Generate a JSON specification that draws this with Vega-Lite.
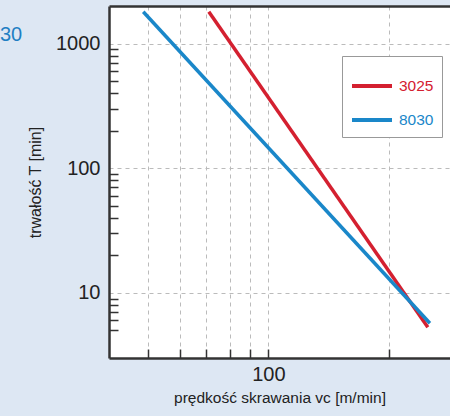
{
  "$schema": "https://vega.github.io/schema/vega-lite/v6.json",
  "width": 341,
  "height": 352,
  "autosize": {"type": "none"},
  "padding": {"left": 109, "top": 6, "right": 0, "bottom": 58},
  "background": "#dde7f3",
  "config": {
    "view": {"stroke": null, "fill": "white"},
    "font": "Liberation Sans, Arial, sans-serif"
  },
  "title": {
    "text": "30",
    "anchor": "start",
    "frame": "group",
    "align": "left",
    "orient": "top",
    "baseline": "alphabetic",
    "offset": 0,
    "dx": -109,
    "dy": 55,
    "fontSize": 20,
    "fontWeight": "normal",
    "color": "#1f7fc3"
  },
  "data": {
    "values": [
      {"grade": "3025", "v": 71, "T": 1800},
      {"grade": "3025", "v": 250, "T": 5.3},
      {"grade": "8030", "v": 48.7, "T": 1800},
      {"grade": "8030", "v": 253, "T": 5.7}
    ]
  },
  "layer": [
    {
      "mark": {"type": "line", "strokeWidth": 3.5, "clip": true},
      "encoding": {
        "x": {
          "field": "v",
          "type": "quantitative",
          "scale": {"type": "log", "domain": [40, 284], "nice": false},
          "axis": {
            "values": [50, 60, 70, 80, 90, 100, 200],
            "labelExpr": "datum.value == 100 ? '100' : ''",
            "grid": true,
            "gridColor": "#bbbbbb",
            "gridDash": [4, 4],
            "gridWidth": 1,
            "tickSize": -9,
            "tickColor": "#333333",
            "tickWidth": 1.5,
            "domainColor": "#333333",
            "domainWidth": 2.5,
            "labelFontSize": 20,
            "labelColor": "#222222",
            "labelPadding": 15,
            "labelOverlap": false,
            "labelBound": false,
            "labelFlush": false,
            "title": "prędkość skrawania vc [m/min]",
            "titleFontSize": 15.5,
            "titleFontWeight": "normal",
            "titleColor": "#222222",
            "titlePadding": 6
          }
        },
        "y": {
          "field": "T",
          "type": "quantitative",
          "scale": {"type": "log", "domain": [3, 2000], "nice": false},
          "axis": {
            "values": [5, 6, 7, 8, 9, 10, 20, 30, 40, 50, 60, 70, 80, 90, 100, 200, 300, 400, 500, 600, 700, 800, 900, 1000],
            "labelExpr": "(datum.value == 10 || datum.value == 100 || datum.value == 1000) ? format(datum.value, 'd') : ''",
            "grid": true,
            "gridOpacity": {"condition": {"test": "datum.value == 10 || datum.value == 100 || datum.value == 1000", "value": 1}, "value": 0},
            "tickOpacity": {"condition": {"test": "datum.value == 10 || datum.value == 100 || datum.value == 1000", "value": 0}, "value": 1},
            "gridColor": "#bbbbbb",
            "gridDash": [4, 4],
            "gridWidth": 1,
            "tickSize": -9,
            "tickColor": "#333333",
            "tickWidth": 1.5,
            "domainColor": "#333333",
            "domainWidth": 2.5,
            "labelFontSize": 20,
            "labelColor": "#222222",
            "labelPadding": 18,
            "labelOverlap": false,
            "labelBound": false,
            "labelFlush": false,
            "title": "trwałość T  [min]",
            "titleFontSize": 16,
            "titleFontWeight": "normal",
            "titleColor": "#222222",
            "titlePadding": 12
          }
        },
        "color": {
          "field": "grade",
          "type": "nominal",
          "scale": {"domain": ["3025", "8030"], "range": ["#d42030", "#1a87c9"]},
          "legend": {
            "orient": "none",
            "legendX": 233,
            "legendY": 50,
            "title": null,
            "strokeColor": "#999999",
            "fillColor": "white",
            "padding": 8,
            "symbolType": "stroke",
            "symbolSize": 1600,
            "symbolStrokeWidth": 4,
            "labelFont": "Liberation Sans, Arial, sans-serif",
            "labelFontSize": 15.5,
            "labelOffset": 5,
            "rowPadding": 3,
            "encode": {"labels": {"update": {"fill": {"scale": "color", "field": "value"}}}}
          }
        }
      }
    },
    {
      "mark": {"type": "rule", "opacity": 0},
      "encoding": {
        "x": {
          "field": "v",
          "type": "quantitative",
          "axis": {
            "orient": "top",
            "labels": false,
            "ticks": false,
            "grid": false,
            "domain": true,
            "domainColor": "#333333",
            "domainWidth": 2.5,
            "title": null
          }
        }
      }
    }
  ],
  "resolve": {"axis": {"x": "independent"}}
}
